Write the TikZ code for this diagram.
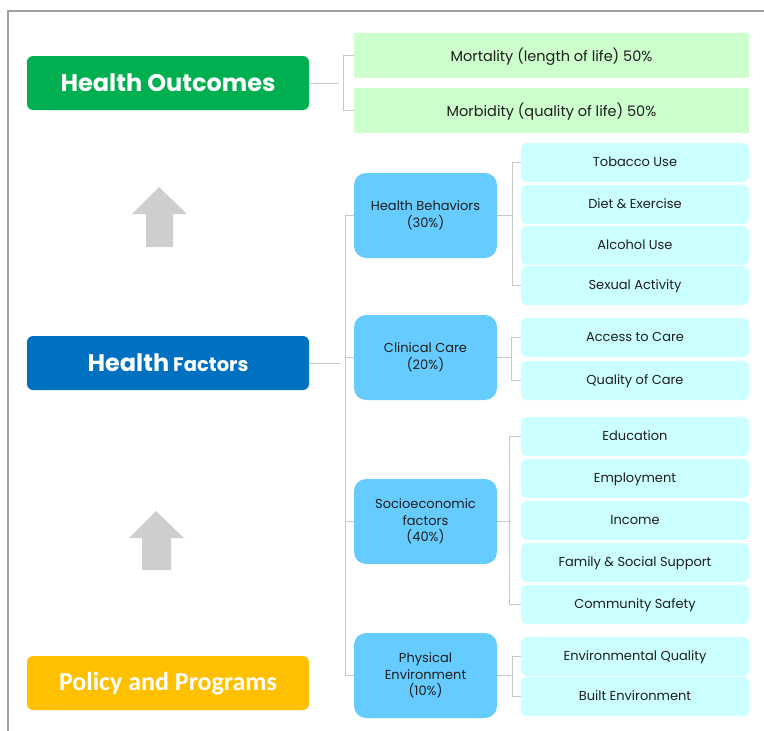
\documentclass[tikz,border=0pt]{standalone}
\usepackage{fontspec}
\setmainfont{Poppins}
\newfontfamily\calib{Carlito}
\definecolor{hgreen}{HTML}{00B050}
\definecolor{hblue}{HTML}{0070C0}
\definecolor{hyellow}{HTML}{FFC000}
\definecolor{midblue}{HTML}{66CCFF}
\definecolor{lcyan}{HTML}{CCFFFF}
\definecolor{lgreen}{HTML}{CCFFCC}
\definecolor{linegray}{HTML}{C8C8C8}
\definecolor{bordergray}{HTML}{A0A0A0}
\definecolor{arrowgray}{HTML}{CFCDCD}
\definecolor{txt}{HTML}{1E1E1E}
\begin{document}
\begin{tikzpicture}[x=1pt,y=-1pt,
  conn/.style={draw=linegray, line width=1pt},
  topbox/.style={anchor=north west, rounded corners=6pt, text=white, minimum width=282pt, minimum height=54pt, inner sep=0pt, outer sep=0pt},
  gbox/.style={anchor=north west, fill=lgreen, text=txt, minimum width=395pt, minimum height=45pt, inner sep=0pt, outer sep=0pt, font=\fontsize{14.5}{16}\selectfont, text depth=1pt},
  mbox/.style={anchor=north west, fill=midblue, text=txt, rounded corners=12pt, minimum width=143pt, minimum height=85pt, inner sep=0pt, outer sep=0pt, align=center, font=\fontsize{13}{16.5}\selectfont},
  rbox/.style={anchor=north west, fill=lcyan, text=txt, rounded corners=6pt, minimum width=228pt, minimum height=39pt, inner sep=0pt, outer sep=0pt, font=\fontsize{13}{15}\selectfont, text depth=1pt},
  uparrow/.style={fill=arrowgray, draw=none}
]
\useasboundingbox (0,0) rectangle (764,731);
% frame
\draw[bordergray, line width=1.2pt] (764,11) -- (8,11) -- (8,731);
% left column
\node[topbox, fill=hgreen, font=\bfseries\fontsize{24}{26}\selectfont] (ho) at (27,56) {Health Outcomes};
\node[topbox, fill=hblue, font=\bfseries] (hf) at (27,336) {{\fontsize{24}{26}\selectfont Health}\hspace{4pt}{\fontsize{19.5}{26}\selectfont Factors}};
\node[topbox, fill=hyellow, font=\calib\bfseries\fontsize{26}{28}\selectfont, text depth=4pt] (pp) at (27,656) {Policy and Programs};
% arrows
\fill[uparrow] (159,187) -- (187,214) -- (173,214) -- (173,247) -- (146,247) -- (146,214) -- (132,214) -- cycle;
\fill[uparrow] (156,511) -- (184,538) -- (171,538) -- (171,570) -- (142,570) -- (142,538) -- (129,538) -- cycle;
% outcomes
\node[gbox] (mort) at (354,33) {Mortality (length of life) 50\%};
\node[gbox] (morb) at (354,88) {Morbidity (quality of life) 50\%};
% middle
\node[mbox] (hb) at (354,173) {Health Behaviors\\(30\%)};
\node[mbox] (cc) at (354,315) {Clinical Care\\(20\%)};
\node[mbox] (se) at (354,479) {Socioeconomic\\factors\\(40\%)};
\node[mbox] (pe) at (354,633) {Physical\\Environment\\(10\%)};
% right
\node[rbox] (tob) at (521,143) {Tobacco Use};
\node[rbox] (diet) at (521,185) {Diet \& Exercise};
\node[rbox] (alc) at (521,226) {Alcohol Use};
\node[rbox] (sex) at (521,266) {Sexual Activity};
\node[rbox] (acc) at (521,318) {Access to Care};
\node[rbox] (qual) at (521,361) {Quality of Care};
\node[rbox] (edu) at (521,417) {Education};
\node[rbox] (emp) at (521,459) {Employment};
\node[rbox] (inc) at (521,501) {Income};
\node[rbox] (fam) at (521,543) {Family \& Social Support};
\node[rbox] (com) at (521,585) {Community Safety};
\node[rbox] (envq) at (521,637) {Environmental Quality};
\node[rbox] (built) at (521,677) {Built Environment};
% connectors
\draw[conn] (ho.east) -- ++(30,0);
\draw[conn] (mort.west) -- ++(-11,0) |- (morb.west);
\draw[conn] (hf.east) -- ++(31,0);
\draw[conn] (hb.west) -- ++(-9,0) |- (pe.west);
\draw[conn] (cc.west) -- ++(-9,0);
\draw[conn] (se.west) -- ++(-9,0);
\draw[conn] (hb.east) -- ++(15,0);
\draw[conn] (tob.west) -- ++(-9,0) |- (sex.west);
\draw[conn] (cc.east) -- ++(14,0);
\draw[conn] (acc.west) -- ++(-10,0) |- (qual.west);
\draw[conn] (se.east) -- ++(14,0);
\draw[conn] (edu.west) -- ++(-12,0) |- (com.west);
\draw[conn] (pe.east) -- ++(14,0);
\draw[conn] (envq.west) -- ++(-9,0) |- (built.west);
\end{tikzpicture}
\end{document}
